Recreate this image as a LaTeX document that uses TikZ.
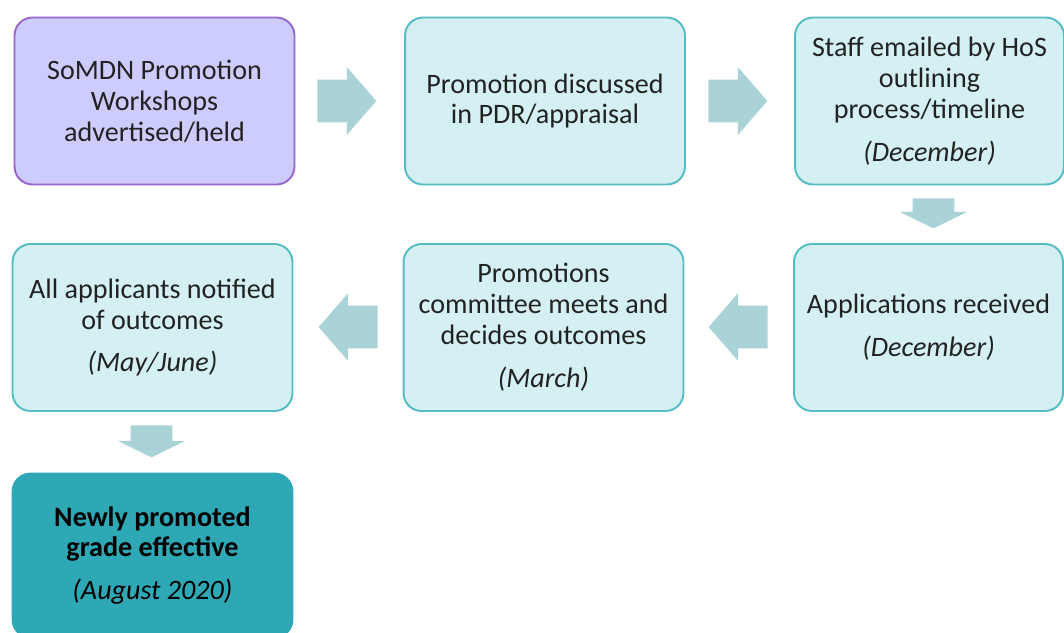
\documentclass[tikz,border=0pt]{standalone}
\usepackage{fontspec}
\setmainfont{Carlito}
\usetikzlibrary{shapes.arrows}

\definecolor{stepfill}{RGB}{212,240,242}
\definecolor{stepline}{RGB}{84,188,196}
\definecolor{startfill}{RGB}{204,204,255}
\definecolor{startline}{RGB}{153,102,204}
\definecolor{flowfill}{RGB}{170,211,216}
\definecolor{endfill}{RGB}{46,168,180}
\definecolor{txt}{RGB}{34,34,34}

\tikzset{
  stepbox/.style={draw=stepline, fill=stepfill, line width=1.1pt, rounded corners=0.36cm,
    minimum width=5.6cm, minimum height=3.34cm, align=center, text=txt,
    font=\fontsize{16}{17.6}\selectfont},
  flow/.style={single arrow, draw=none, fill=flowfill, inner xsep=0pt, inner ysep=0.42cm,
    minimum height=1.18cm, single arrow head extend=0.25cm,
    single arrow tip angle=98, anchor=tail},
  flowdown/.style={flow, shape border rotate=270, inner xsep=0.41cm, inner ysep=0pt,
    single arrow head extend=0.26cm, single arrow tip angle=128}
}

\begin{document}
\begin{tikzpicture}[x=0.02cm, y=-0.02cm]
\clip (0,0) rectangle (1064,632);
\useasboundingbox (0,0) rectangle (1064,632);
% top row
\node[stepbox, draw=startline, fill=startfill] (workshops) at (154.5,101) {SoMDN Promotion\\Workshops\\advertised/held};
\node[stepbox] (pdr) at (545,101) {Promotion discussed\\in PDR/appraisal};
\node[stepbox, minimum width=5.38cm] (email) at (929.5,101) {Staff emailed by HoS\\outlining\\process/timeline\\[6.8pt]\textit{(December)}};
% middle row
\node[stepbox, minimum width=5.38cm] (received) at (928.5,327.5) {Applications received\\[6.8pt]\textit{(December)}};
\node[stepbox] (committee) at (543.5,327.5) {Promotions\\committee meets and\\decides outcomes\\[6.8pt]\textit{(March)}};
\node[stepbox] (notified) at (152.5,327.5) {All applicants notified\\of outcomes\\[6.8pt]\textit{(May/June)}};
% result
\node[stepbox, draw=endfill, fill=endfill, text=black, minimum height=3.28cm] (effective) at (152.5,555.5) {\textbf{Newly promoted}\\\textbf{grade effective}\\[6.8pt]\textit{(August 2020)}};
% block arrows
\node[flow] (f1) at (317,101) {};
\node[flow] (f2) at (708,101) {};
\node[flowdown, minimum height=0.6cm] (f3) at (933.5,198) {};
\node[flow, shape border rotate=180] (f4) at (768,327) {};
\node[flow, shape border rotate=180] (f5) at (378,327) {};
\node[flowdown, minimum height=0.64cm] (f6) at (151.5,425) {};
\end{tikzpicture}
\end{document}
